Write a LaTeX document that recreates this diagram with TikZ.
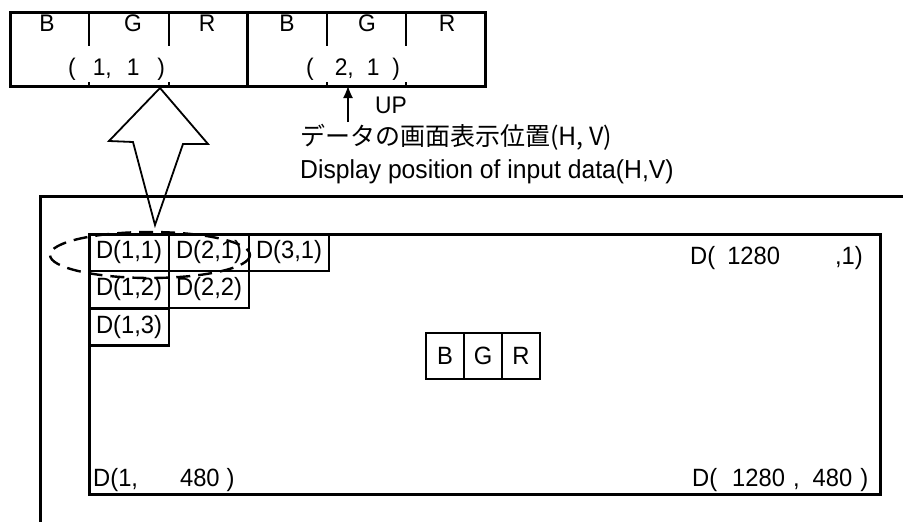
\documentclass[tikz,border=0pt]{standalone}
\usepackage{fontspec}
\setmainfont{Liberation Sans}[FakeStretch=0.95]
\newfontfamily\jpfont{Noto Sans CJK JP}
\usetikzlibrary{arrows.meta}
\tikzset{
  txt/.style={inner sep=0pt, font=\fontsize{25}{28}\selectfont},
  toptxt/.style={inner sep=0pt, font=\fontsize{24}{27}\selectfont},
  cell/.style={draw, line width=2.6pt, minimum width=80pt, minimum height=37pt, inner sep=0pt, font=\fontsize{25}{28}\selectfont},
  bgrcell/.style={draw, line width=1.3pt, minimum width=38pt, minimum height=46pt, inner sep=0pt, font=\fontsize{25}{28}\selectfont},
  frame/.style={line width=3pt},
}
\begin{document}
\begin{tikzpicture}[x=1pt, y=-1pt]
\useasboundingbox (0,0) rectangle (903,522);
\draw[frame] (10,12) rectangle (485,86);
\draw[frame] (247,12) -- (247,86);
\draw[line width=2.4pt] (89,12) -- (89,46) (169,12) -- (169,46) (327,12) -- (327,46) (406,12) -- (406,46);
\draw[line width=2.4pt] (89,82) -- (89,86) (169,82) -- (169,86) (327,82) -- (327,86) (406,82) -- (406,86);
\node[toptxt] (b1) at (47,23) {B};
\node[toptxt] (g1) at (133,23) {G};
\node[toptxt] (r1) at (207,23) {R};
\node[toptxt] (b2) at (287,23) {B};
\node[toptxt] (g2) at (367,23) {G};
\node[toptxt] (r2) at (447,23) {R};
\node[toptxt, anchor=west] (p11) at (68,69) {(\hspace{17pt}1,\hspace{15pt}1\hspace{18pt})};
\node[toptxt, anchor=west] (p21) at (306,69) {(\hspace{21pt}2,\hspace{13pt}1\hspace{13pt})};
\coordinate (uptip) at (348,86);
\coordinate (upfoot) at (348,122);
\draw[line width=1.3pt, -{Latex[length=12pt, width=10pt]}] (upfoot) -- (uptip);
\node[toptxt] (up) at (391,105) {UP};
\node[inner sep=0pt, anchor=west, font=\jpfont\fontsize{25}{28}\selectfont] (jp) at (300,137) {データの画面表示位置(H, V)};
\node[inner sep=0pt, anchor=west, font=\fontsize{26}{29}\selectfont] (en) at (300,172) {Display position of input data(H,V)};
\draw[line width=1.8pt, line join=miter] (160,88) -- (208,144) -- (183,144) -- (155,225) -- (133,142) -- (109,141) -- cycle;
\draw[frame] (903,196) -- (40,196) -- (40,522);
\draw[frame] (89,234) rectangle (880,494);
\node[cell] (d11) at (129,252.5) {D(1,1)};
\node[cell] (d21) at (209,252.5) {D(2,1)};
\node[cell] (d31) at (289,252.5) {D(3,1)};
\node[cell] (d12) at (129,289.5) {D(1,2)};
\node[cell] (d22) at (209,289.5) {D(2,2)};
\node[cell] (d13) at (129,327) {D(1,3)};
\draw[line width=2.4pt, dash pattern=on 14pt off 8pt] (150,255) ellipse [x radius=100, y radius=23];
\node[txt, anchor=west] (dr1) at (690,258) {D(\hspace{12pt}1280\hspace{55pt},1)};
\node[bgrcell] (cb) at (445,356) {B};
\node[bgrcell] (cg) at (483,356) {G};
\node[bgrcell] (cr) at (521,356) {R};
\node[txt, anchor=west] (dl4) at (93,480) {D(1,\hspace{42pt}480\hspace{7pt})};
\node[txt, anchor=west] (dr4) at (692,480) {D(\hspace{15pt}1280\hspace{8pt},\hspace{13pt}480\hspace{8pt})};
\end{tikzpicture}
\end{document}
